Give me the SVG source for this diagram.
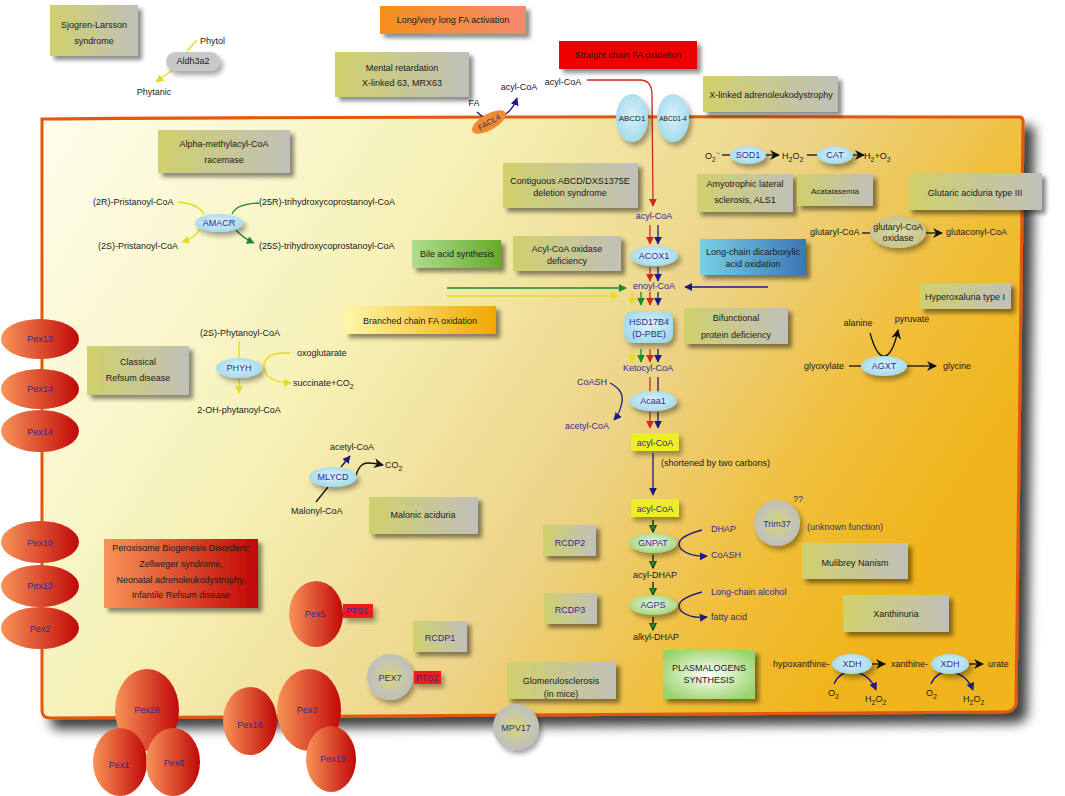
<svg xmlns="http://www.w3.org/2000/svg" width="1065" height="796" viewBox="0 0 1065 796">
<defs>
<style>
text{font-family:"Liberation Sans",Arial,sans-serif;font-size:9px;fill:#1a1a1a}
.c{text-anchor:middle}
.nv{fill:#2e2a96}
.bx{fill:url(#gBox);filter:url(#sh)}
.enz{fill:url(#gEnz);filter:url(#sh2)}
.pex{fill:url(#gPex)}
.gc{fill:url(#gGrey);filter:url(#sh2)}
.ln{fill:none;stroke-width:1.3}
.N{stroke:#1c1a86}.R{stroke:#cc2a1c}.G{stroke:#1a8a2a}.Y{stroke:#e4dc1c}.K{stroke:#111}
</style>
<linearGradient id="gBg" x1="0" y1="0.1" x2="1" y2="0.5">
<stop offset="0" stop-color="#fdfde8"/><stop offset="0.35" stop-color="#f6f1b6"/><stop offset="0.65" stop-color="#ecd386"/><stop offset="0.85" stop-color="#f0be38"/><stop offset="1" stop-color="#f0b41a"/>
</linearGradient>
<linearGradient id="gBox" x1="0" y1="0" x2="1" y2="0"><stop offset="0" stop-color="#d0d06c"/><stop offset="1" stop-color="#c0c0ba"/></linearGradient>
<linearGradient id="gOr" x1="0" y1="0" x2="1" y2="0"><stop offset="0" stop-color="#f5901c"/><stop offset="1" stop-color="#f5886e"/></linearGradient>
<linearGradient id="gBr" x1="0" y1="0" x2="1" y2="0"><stop offset="0" stop-color="#fff7a8"/><stop offset="1" stop-color="#f0a800"/></linearGradient>
<linearGradient id="gBile" x1="0" y1="0" x2="1" y2="0"><stop offset="0" stop-color="#b0dc90"/><stop offset="1" stop-color="#66aa2a"/></linearGradient>
<linearGradient id="gBlue" x1="0" y1="0" x2="1" y2="0"><stop offset="0" stop-color="#7ad0e4"/><stop offset="1" stop-color="#3a76b4"/></linearGradient>
<linearGradient id="gPBD" x1="0" y1="0" x2="1" y2="0"><stop offset="0" stop-color="#f89458"/><stop offset="1" stop-color="#c20606"/></linearGradient>
<radialGradient id="gPlas" cx="0.5" cy="0.5" r="0.6"><stop offset="0" stop-color="#ffffff"/><stop offset="1" stop-color="#98d468"/></radialGradient>
<linearGradient id="gPex" x1="0" y1="0" x2="1" y2="0"><stop offset="0" stop-color="#f89458"/><stop offset="1" stop-color="#c00808"/></linearGradient>
<radialGradient id="gEnz" cx="0.5" cy="0.45" r="0.6"><stop offset="0" stop-color="#d8f2fa"/><stop offset="1" stop-color="#9fd8ea"/></radialGradient>
<radialGradient id="gGrn" cx="0.5" cy="0.45" r="0.6"><stop offset="0" stop-color="#e6f6d8"/><stop offset="1" stop-color="#9ed47a"/></radialGradient>
<radialGradient id="gGrey" cx="0.5" cy="0.5" r="0.55"><stop offset="0" stop-color="#d8d870"/><stop offset="0.6" stop-color="#c6c6b0"/><stop offset="1" stop-color="#bdbdbd"/></radialGradient>
<radialGradient id="gGlu" cx="0.5" cy="0.5" r="0.6"><stop offset="0" stop-color="#dcd8a0"/><stop offset="1" stop-color="#c4c08a"/></radialGradient>
<filter id="sh" x="-20%" y="-20%" width="150%" height="160%"><feDropShadow dx="4" dy="4" stdDeviation="2.2" flood-color="#000" flood-opacity="0.45"/></filter>
<filter id="sh2" x="-30%" y="-30%" width="170%" height="180%"><feDropShadow dx="3" dy="4" stdDeviation="2.5" flood-color="#000" flood-opacity="0.35"/></filter>
<filter id="shBg" x="-5%" y="-5%" width="112%" height="115%"><feDropShadow dx="10" dy="10" stdDeviation="6" flood-color="#000" flood-opacity="0.75"/></filter>
<marker id="aN" viewBox="0 0 10 10" refX="9" refY="5" markerWidth="8" markerHeight="8" markerUnits="userSpaceOnUse" orient="auto"><path d="M0,0 L10,5 L0,10 z" fill="#1c1a86"/></marker>
<marker id="aR" viewBox="0 0 10 10" refX="9" refY="5" markerWidth="8" markerHeight="8" markerUnits="userSpaceOnUse" orient="auto"><path d="M0,0 L10,5 L0,10 z" fill="#cc2a1c"/></marker>
<marker id="aG" viewBox="0 0 10 10" refX="9" refY="5" markerWidth="8" markerHeight="8" markerUnits="userSpaceOnUse" orient="auto"><path d="M0,0 L10,5 L0,10 z" fill="#1a8a2a"/></marker>
<marker id="aY" viewBox="0 0 10 10" refX="9" refY="5" markerWidth="8" markerHeight="8" markerUnits="userSpaceOnUse" orient="auto"><path d="M0,0 L10,5 L0,10 z" fill="#e4dc1c"/></marker>
<marker id="aK" viewBox="0 0 10 10" refX="9" refY="5" markerWidth="10" markerHeight="10" markerUnits="userSpaceOnUse" orient="auto"><path d="M0,0 L10,5 L0,10 L3,5 z" fill="#111"/></marker>
<marker id="aGk" viewBox="0 0 10 10" refX="9" refY="5" markerWidth="8" markerHeight="8" markerUnits="userSpaceOnUse" orient="auto"><path d="M0,0.5 L9.5,5 L0,9.5 z" fill="#1a8a2a" stroke="#111" stroke-width="1"/></marker>
</defs>

<g id="peroxisome">
<path d="M42,119 Q400,116 1020,117 Q1024,118 1023,124 L1016,704 Q1014,712 1004,712 Q500,714 50,718 Q42,718 42,710 Z" fill="url(#gBg)" stroke="#e2580e" stroke-width="3" filter="url(#shBg)"/>
</g>

<g id="connectors">
<!-- Aldh3a2 -->
<path class="ln Y" d="M197,40 L187,51"/>
<path class="ln Y" d="M174,69 L156,82" marker-end="url(#aY)"/>
<!-- FACL4 -->
<path class="ln N" d="M477,112 Q481,116 485,118"/>
<path class="ln N" d="M503,116 Q513,110 517,98" marker-end="url(#aN)"/>
<!-- straight chain import -->
<path class="ln R" d="M587,80 L640,80 Q652,80 652,95 L653,206" marker-end="url(#aR)"/>
<!-- beta-oxidation spine -->
<path class="ln R" d="M650,225 L650,244" marker-end="url(#aR)"/>
<path class="ln N" d="M658,225 L658,244" marker-end="url(#aN)"/>
<path class="ln R" d="M650,267 L650,281" marker-end="url(#aR)"/>
<path class="ln N" d="M658,267 L658,281" marker-end="url(#aN)"/>
<path class="ln G" d="M447,288 L626,288" marker-end="url(#aG)"/>
<path class="ln Y" d="M447,296 L618,296" marker-end="url(#aY)"/>
<path class="ln N" d="M768,287 L685,287" marker-end="url(#aN)"/>
<path class="ln Y" d="M632,292 L632,305" marker-end="url(#aY)"/>
<path class="ln G" d="M641,292 L641,305" marker-end="url(#aG)"/>
<path class="ln R" d="M650,292 L650,305" marker-end="url(#aR)"/>
<path class="ln N" d="M658,292 L658,305" marker-end="url(#aN)"/>
<path class="ln Y" d="M632,349 L632,362" marker-end="url(#aY)"/>
<path class="ln G" d="M641,349 L641,362" marker-end="url(#aG)"/>
<path class="ln R" d="M650,349 L650,362" marker-end="url(#aR)"/>
<path class="ln N" d="M658,349 L658,362" marker-end="url(#aN)"/>
<path class="ln R" d="M650,377 L650,392"/>
<path class="ln N" d="M658,377 L658,392"/>
<path class="ln N" d="M610,383 Q624,390 622,402 Q620,413 614,420" marker-end="url(#aN)"/>
<path class="ln R" d="M650,412 L650,428" marker-end="url(#aR)"/>
<path class="ln N" d="M658,412 L658,428" marker-end="url(#aN)"/>
<path class="ln N" d="M653,453 L653,495" marker-end="url(#aN)"/>
<path class="ln K" d="M653,520 L653,532" marker-end="url(#aGk)"/>
<path class="ln N" d="M702,530 Q672,538 681,549 Q690,557 707,556" marker-end="url(#aN)"/>
<path class="ln K" d="M653,555 L653,568" marker-end="url(#aGk)"/>
<path class="ln K" d="M653,582 L653,595" marker-end="url(#aGk)"/>
<path class="ln N" d="M702,592 Q672,600 681,611 Q690,619 707,617" marker-end="url(#aN)"/>
<path class="ln K" d="M653,617 L653,630" marker-end="url(#aGk)"/>
<!-- SOD1/CAT -->
<path class="ln K" d="M722,155 L730,155"/>
<path class="ln K" d="M766,155 L779,155" marker-end="url(#aK)"/>
<path class="ln K" d="M807,155 L817,155"/>
<path class="ln K" d="M852,155 L864,155" marker-end="url(#aK)"/>
<!-- glutaryl -->
<path class="ln K" d="M862,233 L870,233" stroke-width="2"/>
<path class="ln K" d="M926,233 L942,233" marker-end="url(#aK)"/>
<!-- AGXT -->
<path class="ln K" d="M870,333 Q877,358 885,356 Q893,354 898,330" marker-end="url(#aK)"/>
<path class="ln K" d="M849,366 L861,366"/>
<path class="ln K" d="M907,366 L936,366" marker-end="url(#aK)"/>
<!-- XDH -->
<path class="ln K" d="M872,664 L885,664" marker-end="url(#aK)"/>
<path class="ln K" d="M969,664 L983,664" marker-end="url(#aK)"/>
<path class="ln N" d="M834,684 Q840,670 855,672 Q870,675 876,690" marker-end="url(#aN)"/>
<path class="ln N" d="M931,684 Q937,670 952,672 Q967,675 973,690" marker-end="url(#aN)"/>
<!-- AMACR -->
<path class="ln Y" d="M178,202 Q200,204 204,215"/>
<path class="ln G" d="M259,203 Q236,204 232,214"/>
<path class="ln Y" d="M200,229 Q195,238 182,242" marker-end="url(#aY)"/>
<path class="ln G" d="M236,230 Q243,238 254,243" marker-end="url(#aG)"/>
<!-- PHYH -->
<path class="ln Y" d="M239,341 L239,393" marker-end="url(#aY)"/>
<path class="ln Y" d="M290,353 L280,353 Q263,355 264,368 Q266,382 291,383" marker-end="url(#aY)"/>
<!-- MLYCD -->
<path class="ln K" d="M316,502 L328,487"/>
<path class="ln K" d="M341,467 L350,456" marker-end="url(#aN)"/>
<path class="ln K" d="M355,480 Q358,463 368,463 Q374,463 383,465" marker-end="url(#aK)"/>
</g>

<g id="node-sjogren"><rect class="bx" x="50" y="5" width="88" height="51"/><text class="c" x="94" y="28">Sjogren-Larsson</text><text class="c" x="94" y="44">syndrome</text></g>
<g id="node-aldh3a2"><rect x="166" y="52" width="54" height="19" rx="9.5" fill="#c8c8c8" filter="url(#sh2)"/><text class="c" x="193" y="64">Aldh3a2</text><text x="200" y="44">Phytol</text><text class="c" x="154" y="95">Phytanic</text></g>
<g id="node-longfa"><rect x="380" y="6" width="146" height="28" fill="url(#gOr)" filter="url(#sh)"/><text class="c" x="453" y="23">Long/very long FA activation</text></g>
<g id="node-mental"><rect class="bx" x="335" y="52" width="134" height="45"/><text class="c" x="402" y="71">Mental retardation</text><text class="c" x="402" y="86">X-linked 63, MRX63</text></g>
<g id="node-facl4"><text class="c" x="474" y="106">FA</text><g transform="rotate(-30 489 122)"><ellipse cx="489" cy="122" rx="19" ry="8" fill="#f08a2a"/><text class="c nv" x="489" y="125" style="font-size:8px">FACL4</text></g><text class="c" x="519" y="90">acyl-CoA</text></g>
<g id="node-straight"><rect x="559" y="41" width="138" height="28" fill="#ee0000" filter="url(#sh)"/><text class="c" x="628" y="58">Straight chain FA oxidation</text><text class="c" x="563" y="85">acyl-CoA</text></g>
<g id="node-abcd1"><ellipse class="enz" cx="632" cy="118" rx="16" ry="24"/><text class="c" x="632" y="121" style="font-size:8px">ABCD1</text></g>
<g id="node-abcd14"><ellipse class="enz" cx="673" cy="118" rx="16" ry="24"/><text class="c" x="673" y="121" style="font-size:6.5px">ABCD1-4</text></g>
<g id="node-xald"><rect class="bx" x="703" y="76" width="135" height="36"/><text class="c" x="771" y="98">X-linked adrenoleukodystrophy</text></g>
<g id="node-alpha"><rect class="bx" x="158" y="130" width="132" height="43"/><text class="c" x="224" y="147">Alpha-methylacyl-CoA</text><text class="c" x="224" y="163">racemase</text></g>
<g id="node-contig"><rect class="bx" x="503" y="163" width="135" height="45"/><text class="c" x="570" y="184">Contiguous ABCD/DXS1375E</text><text class="c" x="570" y="196">deletion syndrome</text></g>
<g id="node-sod"><text x="705" y="159">O<tspan dy="3" style="font-size:6.5px">2</tspan><tspan dy="-7" style="font-size:6.5px">·-</tspan></text><ellipse class="enz" cx="748" cy="155" rx="18" ry="9"/><text class="c nv" x="748" y="158">SOD1</text><text x="782" y="159">H<tspan dy="3" style="font-size:7px">2</tspan><tspan dy="-3">O</tspan><tspan dy="3" style="font-size:7px">2</tspan></text></g>
<g id="node-cat"><ellipse class="enz" cx="835" cy="155" rx="18" ry="9"/><text class="c nv" x="835" y="158">CAT</text><text x="864" y="159">H<tspan dy="3" style="font-size:7px">2</tspan><tspan dy="-3">+O</tspan><tspan dy="3" style="font-size:7px">2</tspan></text></g>
<g id="node-als"><rect class="bx" x="697" y="174" width="96" height="38"/><text class="c" x="745" y="187">Amyotrophic lateral</text><text class="c" x="745" y="203">sclerosis, ALS1</text></g>
<g id="node-acat"><rect class="bx" x="797" y="174" width="76" height="32"/><text class="c" x="835" y="194" style="font-size:8px">Acatalasemia</text></g>
<g id="node-glutaric"><rect class="bx" x="908" y="173" width="134" height="37"/><text class="c" x="975" y="196">Glutaric aciduria type III</text></g>
<g id="node-glutox"><text x="810" y="235">glutaryl-CoA</text><ellipse cx="898" cy="232" rx="28" ry="16" fill="url(#gGlu)" filter="url(#sh2)"/><text class="c" x="898" y="230">glutaryl-CoA</text><text class="c" x="898" y="241">oxidase</text><text x="946" y="235">glutaconyl-CoA</text></g>
<g id="node-bile"><rect x="412" y="240" width="89" height="28" fill="url(#gBile)" filter="url(#sh)"/><text class="c" x="457" y="257">Bile acid synthesis</text></g>
<g id="node-acoxdef"><rect class="bx" x="513" y="236" width="108" height="35"/><text class="c" x="567" y="252">Acyl-CoA oxidase</text><text class="c" x="567" y="264">deficiency</text></g>
<g id="node-lcdca"><rect x="700" y="239" width="106" height="36" fill="url(#gBlue)" filter="url(#sh)"/><text class="c" x="753" y="255">Long-chain dicarboxylic</text><text class="c" x="753" y="267">acid oxidation</text></g>
<g id="node-acyl1"><text class="c nv" x="654" y="219">acyl-CoA</text></g>
<g id="node-acox1"><ellipse class="enz" cx="654" cy="256" rx="24" ry="10"/><text class="c nv" x="654" y="259">ACOX1</text></g>
<g id="node-enoyl"><text class="c nv" x="654" y="289">enoyl-CoA</text></g>
<g id="node-hsd"><rect x="624" y="311" width="49" height="32" rx="9" fill="url(#gEnz)" filter="url(#sh2)"/><text class="c nv" x="649" y="325">HSD17B4</text><text class="c nv" x="649" y="337">(D-PBE)</text></g>
<g id="node-keto"><text class="c nv" x="648" y="371">Ketocyl-CoA</text></g>
<g id="node-acaa1"><text class="c nv" x="592" y="385">CoASH</text><ellipse class="enz" cx="653" cy="401" rx="24" ry="10"/><text class="c nv" x="653" y="404">Acaa1</text><text class="c nv" x="587" y="429">acetyl-CoA</text></g>
<g id="node-acyl2"><rect x="631" y="433" width="48" height="18" fill="#eeee26" filter="url(#sh2)"/><text class="c nv" x="655" y="446">acyl-CoA</text><text x="661" y="466">(shortened by two carbons)</text></g>
<g id="node-acyl3"><rect x="631" y="499" width="48" height="18" fill="#eeee26" filter="url(#sh2)"/><text class="c nv" x="655" y="512">acyl-CoA</text></g>
<g id="node-hyperox"><rect class="bx" x="920" y="283" width="91" height="26"/><text class="c" x="965" y="300">Hyperoxaluria type I</text></g>
<g id="node-agxt"><text class="c" x="858" y="326">alanine</text><text class="c" x="912" y="322">pyruvate</text><text x="804" y="369">glyoxylate</text><ellipse class="enz" cx="884" cy="366" rx="23" ry="10"/><text class="c nv" x="884" y="369">AGXT</text><text x="943" y="369">glycine</text></g>
<g id="node-branched"><rect x="345" y="306" width="151" height="28" fill="url(#gBr)" filter="url(#sh)"/><text class="c" x="420" y="324">Branched chain FA oxidation</text></g>
<g id="node-bifunc"><rect class="bx" x="684" y="308" width="104" height="36"/><text class="c" x="736" y="321">Bifunctional</text><text class="c" x="736" y="338">protein deficiency</text></g>
<g id="node-amacr"><text x="93" y="205">(2R)-Pristanoyl-CoA</text><text x="259" y="205">(25R)-trihydroxycoprostanoyl-CoA</text><ellipse class="enz" cx="219" cy="223" rx="24" ry="9"/><text class="c nv" x="219" y="226">AMACR</text><text x="98" y="249">(2S)-Pristanoyl-CoA</text><text x="259" y="249">(25S)-trihydroxycoprostanoyl-CoA</text></g>
<g id="node-refsum"><rect class="bx" x="87" y="346" width="102" height="49"/><text class="c" x="138" y="365">Classical</text><text class="c" x="138" y="381">Refsum disease</text></g>
<g id="node-phyh"><text class="c" x="240" y="336">(2S)-Phytanoyl-CoA</text><ellipse class="enz" cx="239" cy="368" rx="23" ry="10"/><text class="c nv" x="239" y="371">PHYH</text><text x="297" y="356">oxoglutarate</text><text x="293" y="386">succinate+CO<tspan dy="3" style="font-size:7px">2</tspan></text><text class="c" x="239" y="413">2-OH-phytanoyl-CoA</text></g>
<g id="node-mlycd"><text x="330" y="450">acetyl-CoA</text><ellipse class="enz" cx="333" cy="477" rx="24" ry="10"/><text class="c nv" x="333" y="480">MLYCD</text><text x="385" y="468">CO<tspan dy="3" style="font-size:7px">2</tspan></text><text x="291" y="514">Malonyl-CoA</text></g>
<g id="node-malonic"><rect class="bx" x="369" y="497" width="109" height="37"/><text class="c" x="423" y="518">Malonic aciduria</text></g>
<g id="node-pbd"><rect x="104" y="539" width="154" height="69" fill="url(#gPBD)" filter="url(#sh)"/><text class="c" x="181" y="551">Peroxisome Biogenesis Disorders:</text><text class="c" x="181" y="567">Zellweger syndrome,</text><text class="c" x="181" y="583">Neonatal adrenoleukodystrophy,</text><text class="c" x="181" y="598">Infantile Refsum disease</text></g>
<g id="node-rcdp2"><rect class="bx" x="543" y="525" width="53" height="31"/><text class="c nv" x="570" y="546">RCDP2</text></g>
<g id="node-gnpat"><ellipse cx="653" cy="543" rx="24" ry="10" fill="url(#gGrn)" filter="url(#sh2)"/><text class="c nv" x="653" y="546">GNPAT</text><text class="nv" x="711" y="532">DHAP</text><text class="nv" x="711" y="558">CoASH</text><text class="c" x="655" y="578">acyl-DHAP</text></g>
<g id="node-rcdp3"><rect class="bx" x="544" y="593" width="53" height="31"/><text class="c nv" x="570" y="613">RCDP3</text></g>
<g id="node-agps"><ellipse cx="653" cy="605" rx="24" ry="10" fill="url(#gGrn)" filter="url(#sh2)"/><text class="c nv" x="653" y="608">AGPS</text><text class="nv" x="711" y="595">Long-chain alcohol</text><text class="nv" x="711" y="620">fatty acid</text><text class="c" x="656" y="640">alkyl-DHAP</text></g>
<g id="node-trim37"><circle class="gc" cx="777" cy="523" r="23"/><text class="c nv" x="777" y="527">Trim37</text><text class="nv" x="793" y="502">??</text><text class="nv" x="807" y="530">(unknown function)</text></g>
<g id="node-mulibrey"><rect class="bx" x="802" y="543" width="106" height="36"/><text class="c" x="855" y="566">Mulibrey Nanism</text></g>
<g id="node-xanthinuria"><rect class="bx" x="843" y="595" width="106" height="37"/><text class="c" x="896" y="617">Xanthinuria</text></g>
<g id="node-xdh"><text x="773" y="667">hypoxanthine-</text><ellipse class="enz" cx="852" cy="664" rx="20" ry="10"/><text class="c nv" x="852" y="667">XDH</text><text x="891" y="667">xanthine-</text><ellipse class="enz" cx="950" cy="664" rx="19" ry="10"/><text class="c nv" x="950" y="667">XDH</text><text x="988" y="667">urate</text>
<text x="828" y="696">O<tspan dy="3" style="font-size:7px">2</tspan></text><text x="865" y="702">H<tspan dy="3" style="font-size:7px">2</tspan><tspan dy="-3">O</tspan><tspan dy="3" style="font-size:7px">2</tspan></text>
<text x="926" y="696">O<tspan dy="3" style="font-size:7px">2</tspan></text><text x="963" y="702">H<tspan dy="3" style="font-size:7px">2</tspan><tspan dy="-3">O</tspan><tspan dy="3" style="font-size:7px">2</tspan></text></g>
<g id="node-plasmalogens"><rect x="663" y="650" width="92" height="49" fill="url(#gPlas)" filter="url(#sh)"/><text class="c" x="709" y="671">PLASMALOGENS</text><text class="c" x="709" y="683">SYNTHESIS</text></g>
<g id="node-rcdp1"><rect class="bx" x="413" y="621" width="54" height="31"/><text class="c nv" x="440" y="641">RCDP1</text></g>
<g id="node-glomerulo"><rect class="bx" x="507" y="662" width="109" height="37"/><text class="c" x="561" y="684">Glomerulosclerosis</text><text class="c" x="561" y="697">(in mice)</text></g>
<g id="node-pex7"><circle class="gc" cx="390" cy="677" r="23"/><text class="c nv" x="390" y="681">PEX7</text></g>
<g id="node-pts2"><rect x="414" y="671" width="27" height="13" fill="#ee1a1a" filter="url(#sh2)"/><text class="c nv" x="427" y="681">PTS2</text></g>
<g id="node-mpv17"><circle class="gc" cx="516" cy="727" r="23"/><text class="c nv" x="516" y="731">MPV17</text></g>
<g id="node-pex13"><ellipse class="pex" cx="40" cy="339" rx="39" ry="20"/><text class="c nv" x="40" y="342">Pex13</text></g>
<g id="node-pex14a"><ellipse class="pex" cx="40" cy="389" rx="39" ry="20"/><text class="c nv" x="40" y="392">Pex14</text></g>
<g id="node-pex14b"><ellipse class="pex" cx="40" cy="431" rx="39" ry="21"/><text class="c nv" x="40" y="435">Pex14</text></g>
<g id="node-pex10"><ellipse class="pex" cx="40" cy="542" rx="39" ry="21"/><text class="c nv" x="40" y="546">Pex10</text></g>
<g id="node-pex12"><ellipse class="pex" cx="40" cy="586" rx="39" ry="21"/><text class="c nv" x="40" y="589">Pex12</text></g>
<g id="node-pex2"><ellipse class="pex" cx="40" cy="628" rx="39" ry="21"/><text class="c nv" x="40" y="632">Pex2</text></g>
<g id="node-pex5"><ellipse class="pex" cx="316" cy="614" rx="27" ry="33"/><text class="c nv" x="315" y="617">Pex5</text></g>
<g id="node-pts1"><rect x="343" y="604" width="30" height="14" fill="#ee1a1a" filter="url(#sh2)"/><text class="c nv" x="357" y="614">PTS1</text></g>
<g id="node-pex26"><ellipse class="pex" cx="147" cy="710" rx="32" ry="41"/><text class="c nv" x="147" y="713">Pex26</text></g>
<g id="node-pex1"><ellipse class="pex" cx="120" cy="762" rx="27" ry="34"/><text class="c nv" x="119" y="768">Pex1</text></g>
<g id="node-pex6"><ellipse class="pex" cx="173" cy="762" rx="27" ry="34"/><text class="c nv" x="174" y="766">Pex6</text></g>
<g id="node-pex16"><ellipse class="pex" cx="250" cy="721" rx="27" ry="34"/><text class="c nv" x="250" y="728">Pex16</text></g>
<g id="node-pex3"><ellipse class="pex" cx="309" cy="710" rx="32" ry="41"/><text class="c nv" x="307" y="713">Pex3</text></g>
<g id="node-pex19"><ellipse class="pex" cx="331" cy="759" rx="25" ry="33"/><text class="c nv" x="333" y="762">Pex19</text></g>
</svg>
